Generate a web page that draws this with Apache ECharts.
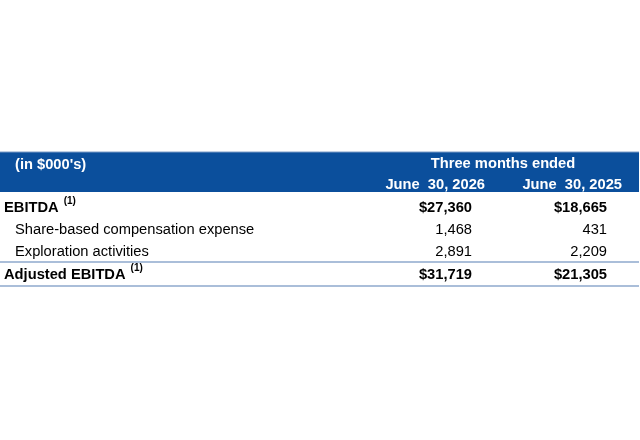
<!DOCTYPE html>
<html>
<head>
<meta charset="utf-8">
<script src="https://cdn.jsdelivr.net/npm/echarts@6/dist/echarts.min.js"></script>
<style>
html,body{margin:0;padding:0;background:#fff;}
#main{width:640px;height:440px;}
</style>
</head>
<body>
<div id="main"></div>
<script>
var unitLabel = "(in $000's)";
var periodTitle = "Three months ended";
var columnHeads = ["June  30, 2026", "June  30, 2025"];
var rowLabels = ["EBITDA", "Share-based compensation expense", "Exploration activities", "Adjusted EBITDA"];
var rowNotes = ["(1)", "", "", "(1)"];
var rowBold = [true, false, false, true];
var values2026 = ["$27,360", "1,468", "2,891", "$31,719"];
var values2025 = ["$18,665", "431", "2,209", "$21,305"];

var chart = echarts.init(document.getElementById("main"));
var font = "Liberation Sans, Arial, sans-serif";
var size = "14.7px ";
var blue = "#0b4f9c";
var ruleColor = "#8ea9cc";

var rowY = [208, 230, 252, 275];
var colRight = [472, 607];
var headRight = [485, 622];
var els = [];

// header band
els.push({type: "rect", shape: {x: 0, y: 152, width: 639, height: 40}, style: {fill: blue}});
els.push({type: "line", shape: {x1: 0, y1: 152, x2: 639, y2: 152}, style: {stroke: "#7d9cc6", lineWidth: 1}});
els.push({type: "text", x: 15, y: 165, style: {text: unitLabel, fill: "#fff", font: "bold " + size + font, verticalAlign: "middle"}});
els.push({type: "text", x: 503, y: 164, style: {text: periodTitle, fill: "#fff", font: "bold " + size + font, align: "center", verticalAlign: "middle"}});
for (var c = 0; c < columnHeads.length; c++) {
    els.push({type: "text", x: headRight[c], y: 185, style: {text: columnHeads[c], fill: "#fff", font: "bold " + size + font, align: "right", verticalAlign: "middle"}});
}

// body rows
for (var i = 0; i < rowLabels.length; i++) {
    var f = (rowBold[i] ? "bold " : "") + size + font;
    var lx = rowBold[i] ? 4 : 15;
    els.push({type: "text", x: lx, y: rowY[i], style: {text: rowLabels[i], fill: "#000", font: f, verticalAlign: "middle"}});
    if (rowNotes[i]) {
        var w = echarts.format.getTextRect ? echarts.format.getTextRect(rowLabels[i], f).width : rowLabels[i].length * 9;
        els.push({type: "text", x: lx + w + 5, y: rowY[i] - 7, style: {text: rowNotes[i], fill: "#000", font: "bold 10px " + font, verticalAlign: "middle"}});
    }
    els.push({type: "text", x: colRight[0], y: rowY[i], style: {text: values2026[i], fill: "#000", font: f, align: "right", verticalAlign: "middle"}});
    els.push({type: "text", x: colRight[1], y: rowY[i], style: {text: values2025[i], fill: "#000", font: f, align: "right", verticalAlign: "middle"}});
}

// rules
els.push({type: "line", shape: {x1: 0, y1: 262, x2: 639, y2: 262}, style: {stroke: ruleColor, lineWidth: 1.5}});
els.push({type: "line", shape: {x1: 0, y1: 286, x2: 639, y2: 286}, style: {stroke: ruleColor, lineWidth: 1.5}});

option = {
    backgroundColor: "#fff",
    graphic: {elements: els}
};
chart.setOption(option);
</script>
</body>
</html>
